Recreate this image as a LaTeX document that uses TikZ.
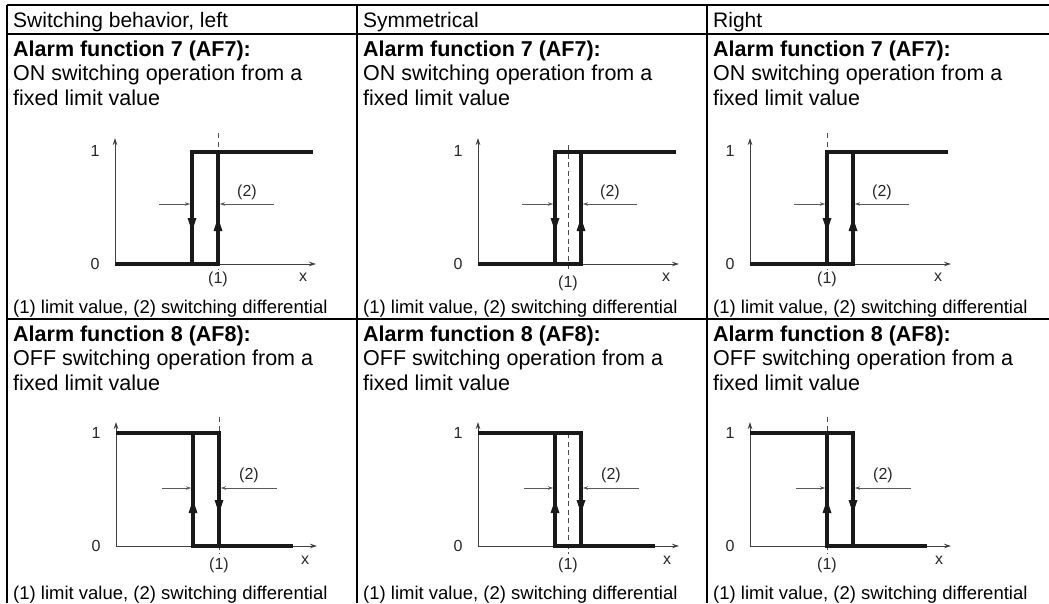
\documentclass[tikz,border=0pt]{standalone}
\usepackage{fontspec}
\setmainfont{Liberation Sans}
\usetikzlibrary{arrows.meta}
\tikzset{
  rule/.style={line width=1.2pt, draw=black},
  headtext/.style={anchor=base west, inner sep=0pt, font=\fontsize{21}{24}\selectfont},
  titletext/.style={anchor=base west, inner sep=0pt, font=\fontsize{21.5}{24}\selectfont\bfseries},
  bodytext/.style={anchor=base west, inner sep=0pt, font=\fontsize{21.5}{24}\selectfont},
  notetext/.style={anchor=base west, inner sep=0pt, font=\fontsize{18.5}{22}\selectfont},
  axisline/.style={line width=0.8pt, draw=black!75, -{Stealth[length=7pt,width=4.5pt]}},
  signal/.style={line width=4pt, draw=black!90, line join=miter},
  dimline/.style={line width=0.6pt, draw=black!65, -{Stealth[length=5pt,width=3.5pt]}},
  limitline/.style={line width=0.8pt, draw=black!70, dash pattern=on 5pt off 3.5pt},
  dirtip/.style={fill=black!90},
  chartlabel/.style={inner sep=0pt, font=\fontsize{16}{18}\selectfont, text=black!85},
}
% #1 prefix, #2 x, #3 y, #4 limit x, #5 dash top, #6 dash bottom, #7 (1) dy
\newcommand\onchart[7]{%
\begin{scope}[shift={(#2,#3)}]
 \draw[limitline] (#4,#5) -- (#4,#6);
 \coordinate (#1o) at (0,0);
 \coordinate (#1yt) at (0,-126);
 \coordinate (#1xe) at (201,0);
 \draw[axisline] (#1o) -- (#1yt);
 \draw[axisline] (#1o) -- (#1xe);
 \node[chartlabel] (#1one) at (-20,-113) {1};
 \node[chartlabel] (#1zero) at (-20,0) {0};
 \node[chartlabel] (#1x) at (188,13) {x};
 \node[chartlabel] (#1lim) at (#4,#7) {(1)};
 \node[chartlabel] (#1dif) at (132,-72) {(2)};
 \draw[signal] (0,0) -- (103,0) -- (103,-112);
 \draw[signal] (77,0) -- (77,-112) -- (198,-112);
 \fill[dirtip] (77,-33) -- (72.5,-46) -- (81.5,-46) -- cycle;
 \fill[dirtip] (103,-46) -- (98.5,-33) -- (107.5,-33) -- cycle;
 \coordinate (#1la) at (44,-60);
 \coordinate (#1lb) at (75,-60);
 \coordinate (#1ra) at (159,-60);
 \coordinate (#1rb) at (105,-60);
 \draw[dimline] (#1la) -- (#1lb);
 \draw[dimline] (#1ra) -- (#1rb);
\end{scope}}
\newcommand\offchart[7]{%
\begin{scope}[shift={(#2,#3)}]
 \draw[limitline] (#4,#5) -- (#4,#6);
 \coordinate (#1o) at (0,0);
 \coordinate (#1yt) at (0,-124);
 \coordinate (#1xe) at (201,0);
 \draw[axisline] (#1o) -- (#1yt);
 \draw[axisline] (#1o) -- (#1xe);
 \node[chartlabel] (#1one) at (-20,-113) {1};
 \node[chartlabel] (#1zero) at (-20,0) {0};
 \node[chartlabel] (#1x) at (189,14) {x};
 \node[chartlabel] (#1lim) at (#4,#7) {(1)};
 \node[chartlabel] (#1dif) at (133,-71) {(2)};
 \draw[signal] (0,-113) -- (103,-113) -- (103,0);
 \draw[signal] (77,-113) -- (77,0) -- (177,0);
 \fill[dirtip] (77,-46) -- (72.5,-33) -- (81.5,-33) -- cycle;
 \fill[dirtip] (103,-33) -- (98.5,-46) -- (107.5,-46) -- cycle;
 \coordinate (#1la) at (46,-58);
 \coordinate (#1lb) at (75,-58);
 \coordinate (#1ra) at (161,-58);
 \coordinate (#1rb) at (105,-58);
 \draw[dimline] (#1la) -- (#1lb);
 \draw[dimline] (#1ra) -- (#1rb);
\end{scope}}
\begin{document}
\begin{tikzpicture}[x=1pt,y=-1pt]
\useasboundingbox (0,0) rectangle (1049,603);
% table rules
\draw[rule] (7,5) -- (1049,5);
\draw[rule] (7,34) -- (1049,34);
\draw[rule] (7,319) -- (1049,319);
\draw[rule] (7,5) -- (7,603);
\draw[rule] (357,5) -- (357,603);
\draw[rule] (707,5) -- (707,603);
% header
\node[headtext] (h1) at (13,27) {Switching behavior, left};
\node[headtext] (h2) at (363,27) {Symmetrical};
\node[headtext] (h3) at (713,27) {Right};
% row texts
\foreach \cx/\nm in {13/a,363/b,713/c}{
  \node[titletext] (\nm t) at (\cx,56) {Alarm function 7 (AF7):};
  \node[bodytext] (\nm s) at (\cx,80.7) {ON switching operation from a};
  \node[bodytext] (\nm u) at (\cx,105.4) {fixed limit value};
  \node[notetext] (\nm n) at (\cx,313) {(1) limit value, (2) switching differential};
  \node[titletext] (\nm T) at (\cx,341) {Alarm function 8 (AF8):};
  \node[bodytext] (\nm S) at (\cx,365.7) {OFF switching operation from a};
  \node[bodytext] (\nm U) at (\cx,390.4) {fixed limit value};
  \node[notetext] (\nm N) at (\cx,599) {(1) limit value, (2) switching differential};
}
% charts
\onchart{pa}{115}{264}{103}{-131}{6}{15}
\onchart{pb}{478}{264}{90}{-119}{8}{19}
\onchart{pc}{750}{264}{77}{-131}{6}{15}
\offchart{qa}{116}{546}{103}{-129}{8}{19}
\offchart{qb}{478}{546}{90}{-113}{8}{19}
\offchart{qc}{750}{546}{77}{-129}{8}{19}
\end{tikzpicture}
\end{document}
